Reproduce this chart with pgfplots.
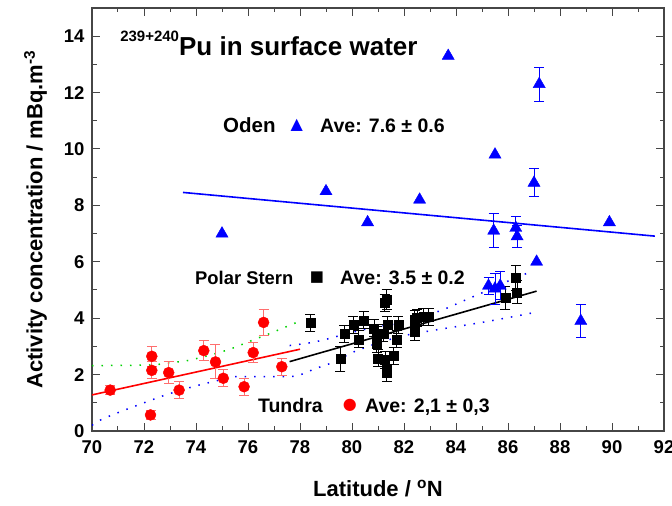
\documentclass[border=0pt]{standalone}
\usepackage{fontspec}
\setmainfont{Liberation Sans}
\newfontfamily\sym{DejaVu Sans}
\usepackage{pgfplots}
\pgfplotsset{compat=1.18}
\definecolor{ebred}{RGB}{255,110,110}
\definecolor{dgreen}{RGB}{0,210,0}
\definecolor{axgray}{RGB}{70,70,70}
\begin{document}
\begin{tikzpicture}
\begin{axis}[
  scale only axis, width=572pt, height=423pt,
  xmin=70, xmax=92, ymin=0, ymax=15,
  xtick={70,72,...,92}, ytick={0,2,...,14},
  minor x tick num=1, minor y tick num=1,
  tick align=inside, major tick length=8pt, minor tick length=4.5pt,
  axis line style={line width=1.2pt, axgray},
  every tick/.style={line width=1pt, axgray},
  /pgf/number format/assume math mode=true,
  ticklabel style={font=\bfseries\fontsize{18.5}{18.5}\selectfont},
  xticklabel style={yshift=-6pt},
  yticklabel style={xshift=-4pt},
  label style={font=\bfseries\fontsize{22}{22}\selectfont},
  xlabel style={yshift=-20pt},
  ylabel style={yshift=10pt},
  xlabel={Latitude / \textsuperscript{o}N},
  ylabel={Activity concentration / mBq.m\textsuperscript{-3}},
  error bars/y dir=both, error bars/y explicit,
]
% Oden fit
\addplot[blue, line width=1.6pt] coordinates {(73.5,8.46) (91.65,6.91)};
% Tundra fit and bands
\addplot[red, line width=1.6pt] coordinates {(70,1.28) (78,2.9)};
\addplot[dgreen, line width=1.5pt, dash pattern=on 1.5pt off 8pt, smooth] coordinates {
(70,2.32) (72.2,2.34) (73,2.42) (73.8,2.52) (75.2,2.87) (76.2,3.23) (76.9,3.48) (78.0,3.9)};
\addplot[blue, line width=1.5pt, dash pattern=on 1.5pt off 8pt, smooth] coordinates {
(70,0.2) (70.3,0.38) (71,0.65) (72,1.0) (72.9,1.3) (74,1.6) (75.2,1.87) (75.5,1.93) (77.6,1.93)
(78.0,1.99) (78.4,2.14) (78.8,2.28) (79.4,2.48) (80,2.78) (81,3.12) (82,3.38) (83,3.55) (84,3.7) (85,3.85) (86,4.02) (86.9,4.18)};
\addplot[blue, line width=1.5pt, dash pattern=on 1.5pt off 8pt, smooth] coordinates {
(77.6,3.03) (78.4,3.13) (79,3.25) (79.4,3.35) (80,3.5) (81,3.7) (82,3.85) (83,4.15) (83.5,4.3) (84.5,4.7) (85.5,5.1) (86.2,5.4) (86.9,5.65)};
% Polar Stern fit
\addplot[black, line width=1.6pt] coordinates {(77.6,2.46) (87.1,4.96)};
% Oden points
\addplot[only marks, mark=triangle*, mark size=7pt, color=blue, mark options={fill=blue, draw=blue}] table {
x y
75.0 7.0
79.0 8.5
80.6 7.4
82.6 8.2
83.7 13.3
85.5 9.8
89.9 7.4
87.1 6.0
};
\addplot[only marks, mark=triangle*, mark size=7pt, color=blue, mark options={fill=blue, draw=blue},
  error bars/error bar style={line width=1pt, blue},
  error bars/error mark options={rotate=90, mark size=5pt, line width=1pt, blue}] table[x=x, y=y, y error=e] {
x y e
87.2 12.3 0.6
87.0 8.8 0.5
85.45 7.1 0.6
86.3 7.2 0.4
86.35 6.9 0.4
85.25 5.15 0.3
85.5 5.05 0.55
85.7 5.15 0.5
88.8 3.9 0.6
};
% Polar Stern points
\addplot[only marks, mark=square*, mark size=4.5pt, color=black,
  error bars/error bar style={line width=1pt, black},
  error bars/error mark options={rotate=90, mark size=5pt, line width=1pt, black}] table[x=x, y=y, y error=e] {
x y e
78.4 3.84 0.3
79.55 2.55 0.45
79.7 3.44 0.3
80.05 3.76 0.3
80.25 3.25 0.3
80.45 3.92 0.3
80.85 3.64 0.3
80.95 3.4 0.3
80.95 3.1 0.3
81.0 2.58 0.3
81.25 4.55 0.3
81.33 4.67 0.35
81.36 3.76 0.3
81.2 3.46 0.3
81.27 2.52 0.3
81.33 2.22 0.3
81.33 2.05 0.3
81.6 2.66 0.3
81.72 3.25 0.3
81.78 3.76 0.3
82.42 3.94 0.35
82.42 3.52 0.3
82.42 3.7 0.3
82.5 4.0 0.3
82.74 4.05 0.3
82.95 4.05 0.3
85.9 4.72 0.4
86.3 5.42 0.45
86.35 4.92 0.4
};
% Tundra points
\addplot[only marks, mark=*, mark size=5.5pt, color=red, mark options={fill=red, draw=red},
  error bars/error bar style={line width=1pt, ebred},
  error bars/error mark options={rotate=90, mark size=5pt, line width=1pt, ebred}] table[x=x, y=y, y error=e] {
x y e
70.7 1.45 0.15
72.3 2.65 0.35
72.3 2.15 0.3
72.25 0.57 0.15
72.95 2.07 0.4
73.35 1.45 0.3
74.3 2.85 0.35
74.75 2.45 0.6
75.05 1.87 0.3
75.85 1.57 0.3
76.2 2.78 0.35
76.6 3.85 0.45
77.3 2.28 0.3
};
% annotations
\node[anchor=base west, inner sep=0pt, font=\bfseries\fontsize{26}{26}\selectfont] at (axis cs:71.08,13.3)
  {\raisebox{14pt}{\fontsize{15}{15}\selectfont 239+240}Pu in surface water};
\node[anchor=base west, inner sep=0pt, font=\bfseries\fontsize{20.5}{20.5}\selectfont] at (axis cs:75.04,10.6) {Oden};
\node[inner sep=0pt, text=blue, font=\sym\fontsize{16}{16}\selectfont] at (axis cs:77.88,10.85) {▲};
\node[anchor=base west, inner sep=0pt, font=\bfseries\fontsize{19.5}{19.5}\selectfont] at (axis cs:78.77,10.6) {Ave: 7.6 ± 0.6};
\node[anchor=base west, inner sep=0pt, font=\bfseries\fontsize{18.4}{18.4}\selectfont] at (axis cs:73.96,5.2) {Polar Stern};
\node[inner sep=0pt, text=black, font=\sym\fontsize{15}{15}\selectfont] at (axis cs:78.65,5.43) {■};
\node[anchor=base west, inner sep=0pt, font=\bfseries\fontsize{19.5}{19.5}\selectfont] at (axis cs:79.54,5.2) {Ave: 3.5 ± 0.2};
\node[anchor=base west, inner sep=0pt, font=\bfseries\fontsize{19.5}{19.5}\selectfont] at (axis cs:76.38,0.67) {Tundra};
\node[inner sep=0pt, text=red, font=\sym\fontsize{16}{16}\selectfont] at (axis cs:79.92,0.92) {●};
\node[anchor=base west, inner sep=0pt, font=\bfseries\fontsize{19.5}{19.5}\selectfont] at (axis cs:80.5,0.67) {Ave: 2,1 ± 0,3};
\end{axis}
\pgfresetboundingbox
\path ([shift={(-92pt,-75pt)}]current axis.south west) rectangle ([shift={(8pt,8pt)}]current axis.north east);
\end{tikzpicture}
\end{document}
